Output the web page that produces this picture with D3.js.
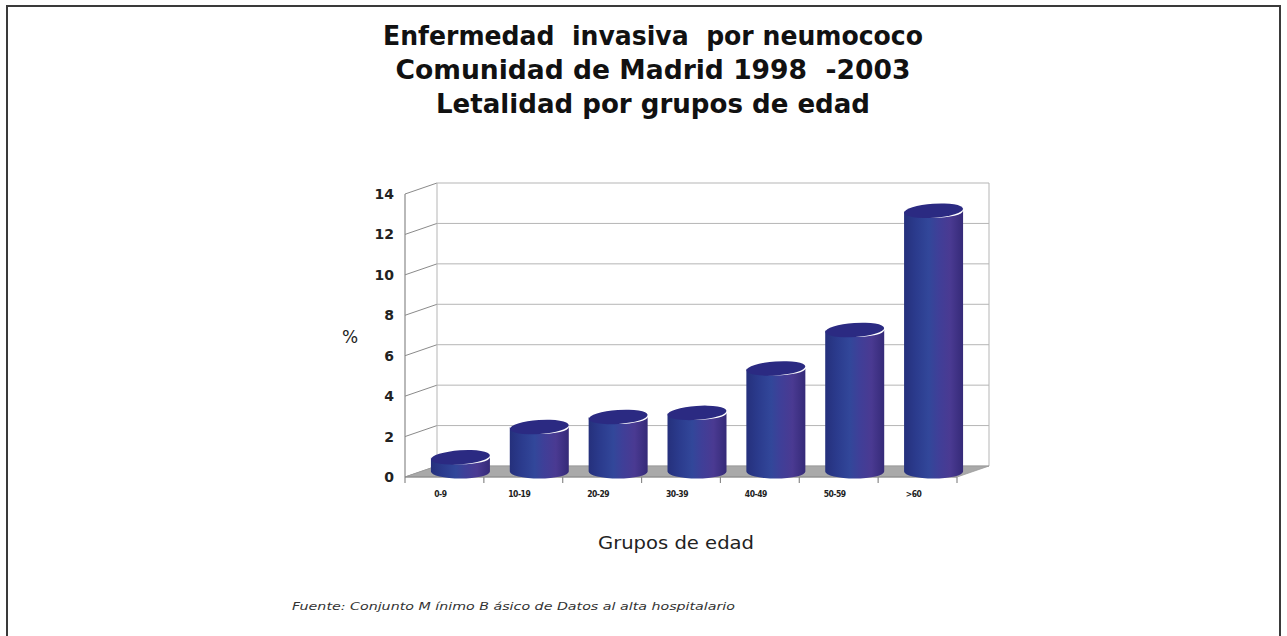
<!DOCTYPE html>
<html>
<head>
<meta charset="utf-8">
<script src="https://cdn.jsdelivr.net/npm/d3@7/dist/d3.min.js"></script>
<style>
  html, body { margin: 0; padding: 0; background: #fff; }
  svg { display: block; }
  text { white-space: pre; }
</style>
</head>
<body>
<svg id="chart" width="1287" height="636"></svg>
<script>
// Letalidad (%) de la enfermedad invasiva por neumococo, por grupo de edad
const categories = ["0-9", "10-19", "20-29", "30-39", "40-49", "50-59", ">60"];
const letalidad = [0.7, 2.2, 2.7, 2.9, 5.1, 7.0, 12.9];
const yTicks = [0, 2, 4, 6, 8, 10, 12, 14];
const titleLines = [
  "Enfermedad  invasiva  por neumococo",
  "Comunidad de Madrid 1998  -2003",
  "Letalidad por grupos de edad"
];
const titleWidths = [540, 515, 434];
const xAxisTitle = "Grupos de edad";
const yAxisTitle = "%";
const fuente = "Fuente: Conjunto M ínimo B ásico de Datos al alta hospitalario";

const svg = d3.select("#chart");
const titleFont = "'Comic Sans MS', 'DejaVu Sans', sans-serif";

// outer frame
svg.append("path")
  .attr("d", "M7,640 L7,6 L1280,6 L1280,640")
  .attr("fill", "none").attr("stroke", "#3a3a3a").attr("stroke-width", 2);

// title
svg.append("g").selectAll("text").data(titleLines).join("text")
  .attr("x", 653).attr("y", (d, i) => 45 + i * 34)
  .attr("text-anchor", "middle")
  .attr("font-family", titleFont).attr("font-weight", "bold")
  .attr("font-size", 26).attr("fill", "#111")
  .attr("textLength", (d, i) => titleWidths[i])
  .attr("lengthAdjust", "spacingAndGlyphs")
  .text(d => d);

// 3D layout: front plane scales plus a depth offset toward the back wall
const x = d3.scaleBand().domain(categories).range([405, 957]).paddingInner(0).paddingOuter(0);
const y = d3.scaleLinear().domain([0, 14]).range([477, 194]);
const depth = { dx: 32, dy: -11 };
const proj = (px, py, t) => [px + t * depth.dx, py + t * depth.dy];

const grid = svg.append("g").attr("stroke", "#b5b5b5").attr("fill", "none").attr("stroke-width", 1);
const x0 = x.range()[0], x1 = x.range()[1];

// back wall horizontal gridlines and side-wall slants
yTicks.forEach(v => {
  const [bx0, by] = proj(x0, y(v), 1);
  const [bx1] = proj(x1, y(v), 1);
  grid.append("line").attr("x1", bx0).attr("y1", by).attr("x2", bx1).attr("y2", by);
  grid.append("line").attr("x1", x0).attr("y1", y(v)).attr("x2", bx0).attr("y2", by)
    .attr("stroke", "#8a8a8a");
});
// wall edges
{
  const [blx, bty] = proj(x0, y(14), 1);
  const [brx, bby] = proj(x1, y(0), 1);
  grid.append("line").attr("x1", blx).attr("y1", bty).attr("x2", blx).attr("y2", bby);
  grid.append("line").attr("x1", brx).attr("y1", bty).attr("x2", brx).attr("y2", bby);
}

// floor
{
  const [blx, bly] = proj(x0, y(0), 1);
  const [brx, bry] = proj(x1, y(0), 1);
  svg.append("path")
    .attr("d", `M${x0},${y(0)} L${x1},${y(0)} L${brx},${bry} L${blx},${bly} Z`)
    .attr("fill", "#a9a9a9").attr("stroke", "#9a9a9a").attr("stroke-width", 0.8);
}

// front axes
const axes = svg.append("g").attr("stroke", "#8a8a8a").attr("stroke-width", 1.2);
axes.append("line").attr("x1", x0).attr("y1", y(0)).attr("x2", x0).attr("y2", y(14));
axes.append("line").attr("x1", x0).attr("y1", y(0)).attr("x2", x1).attr("y2", y(0));
const edges = categories.map(c => x(c)).concat([x1]);
axes.selectAll("line.tick").data(edges).join("line")
  .attr("class", "tick")
  .attr("x1", d => d).attr("x2", d => d)
  .attr("y1", y(0)).attr("y2", y(0) + 6);

// y tick labels
svg.append("g").selectAll("text").data(yTicks).join("text")
  .attr("x", 394).attr("y", d => y(d) + 5)
  .attr("text-anchor", "end")
  .attr("font-family", "'DejaVu Sans', Verdana, sans-serif")
  .attr("font-weight", "bold").attr("font-size", 14).attr("fill", "#222")
  .text(d => d);

// x tick labels
svg.append("g").selectAll("text").data(categories).join("text")
  .attr("x", d => x(d) + x.bandwidth() / 2 - 4).attr("y", 497)
  .attr("text-anchor", "middle")
  .attr("font-family", "'DejaVu Sans Condensed', 'DejaVu Sans', sans-serif")
  .attr("font-weight", "bold").attr("font-size", 8.5).attr("fill", "#222")
  .attr("letter-spacing", -0.5)
  .text(d => d);

// axis titles
svg.append("text").attr("x", 350).attr("y", 343).attr("text-anchor", "middle")
  .attr("font-family", titleFont).attr("font-size", 17).attr("fill", "#222")
  .text(yAxisTitle);
svg.append("text").attr("x", 676).attr("y", 549).attr("text-anchor", "middle")
  .attr("font-family", titleFont).attr("font-size", 17).attr("fill", "#222")
  .attr("textLength", 156).attr("lengthAdjust", "spacingAndGlyphs")
  .text(xAxisTitle);

// source note
svg.append("text").attr("x", 292).attr("y", 610)
  .attr("font-family", titleFont).attr("font-style", "italic")
  .attr("font-size", 11).attr("fill", "#333")
  .attr("textLength", 443).attr("lengthAdjust", "spacingAndGlyphs")
  .text(fuente);

// cylinder shading
const defs = svg.append("defs");
const grad = defs.append("linearGradient").attr("id", "cyl").attr("x1", "0%").attr("x2", "100%");
[["0%", "#25307c"], ["20%", "#2b3b8d"], ["42%", "#32479a"], ["58%", "#3f3f98"],
 ["78%", "#4a3a92"], ["100%", "#352a78"]].forEach(([o, c]) =>
  grad.append("stop").attr("offset", o).attr("stop-color", c));

// cylinders sit at mid depth
const rx = 29.5, ry = 7, tilt = -4;
const bars = svg.append("g");
categories.forEach((c, i) => {
  const v = letalidad[i];
  const [cx, ybot] = proj(x(c) + x.bandwidth() / 2, y(0), 0.5);
  const [, ytop] = proj(x(c) + x.bandwidth() / 2, y(v), 0.5);
  const g = bars.append("g");
  g.append("path")
    .attr("d", `M${cx - rx},${ytop} L${cx - rx},${ybot} A${rx},${ry} 0 0 0 ${cx + rx},${ybot} L${cx + rx},${ytop} A${rx},${ry} 0 0 1 ${cx - rx},${ytop} Z`)
    .attr("fill", "url(#cyl)");
  g.append("ellipse")
    .attr("cx", cx).attr("cy", ytop).attr("rx", rx).attr("ry", ry)
    .attr("transform", `rotate(${tilt},${cx},${ytop})`)
    .attr("fill", "#2b2a82");
});
</script>
</body>
</html>
